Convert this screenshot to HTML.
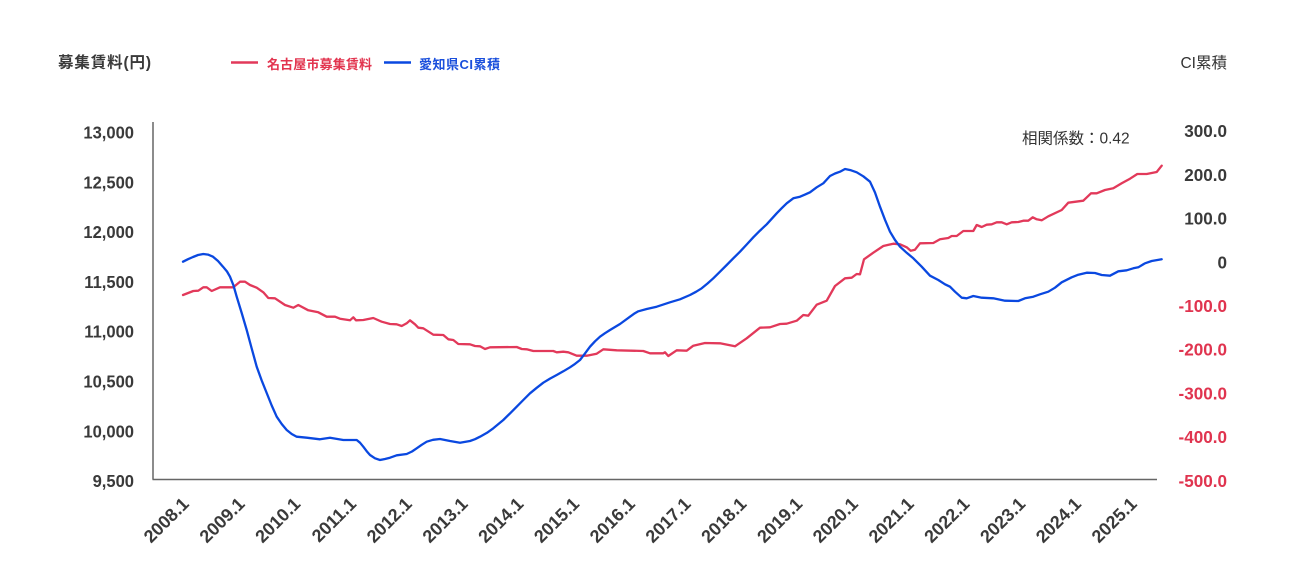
<!DOCTYPE html>
<html><head><meta charset="utf-8"><style>
html,body{margin:0;padding:0;background:#fff;}
svg{display:block;}
text{font-family:"Liberation Sans","Noto Sans CJK JP",sans-serif;}
.ax{font-size:18px;font-weight:bold;fill:#3a3a3a;}
.axr{font-size:18px;font-weight:bold;fill:#e0344f;}
</style></head><body>
<svg width="1300" height="580" viewBox="0 0 1300 580" xmlns="http://www.w3.org/2000/svg">
<rect width="1300" height="580" fill="#fff"/>
<!-- headers -->
<text x="58" y="67.5" font-size="15.5" font-weight="bold" fill="#3a3a3a" textLength="93" lengthAdjust="spacing">募集賃料(円)</text>
<line x1="231" y1="62.5" x2="258" y2="62.5" stroke="#e2395a" stroke-width="2.5"/>
<text x="267" y="69" font-size="13" font-weight="bold" fill="#e2344f" textLength="105" lengthAdjust="spacing">名古屋市募集賃料</text>
<line x1="384" y1="62.5" x2="411" y2="62.5" stroke="#0a48e0" stroke-width="2.5"/>
<text x="419" y="69" font-size="13" font-weight="bold" fill="#1a4fdc" textLength="81" lengthAdjust="spacing">愛知県CI累積</text>
<text x="1227" y="68" font-size="15.5" fill="#333" text-anchor="end">CI累積</text>
<text x="1022" y="143.5" font-size="15.5" fill="#333">相関係数：0.42</text>

<!-- axes -->
<line x1="153" y1="122" x2="153" y2="479.5" stroke="#666" stroke-width="1.5"/>
<line x1="152.5" y1="479.5" x2="1157" y2="479.5" stroke="#666" stroke-width="1.5"/>

<!-- left labels -->
<g class="ax" text-anchor="end">
<text transform="translate(134,138.5) scale(0.92,1)">13,000</text>
<text transform="translate(134,188.3) scale(0.92,1)">12,500</text>
<text transform="translate(134,238.1) scale(0.92,1)">12,000</text>
<text transform="translate(134,287.9) scale(0.92,1)">11,500</text>
<text transform="translate(134,337.7) scale(0.92,1)">11,000</text>
<text transform="translate(134,387.5) scale(0.92,1)">10,500</text>
<text transform="translate(134,437.3) scale(0.92,1)">10,000</text>
<text transform="translate(134,487.1) scale(0.92,1)">9,500</text>
</g>
<!-- right labels -->
<g text-anchor="end">
<text class="ax" transform="translate(1227,137.2) scale(0.95,1)">300.0</text>
<text class="ax" transform="translate(1227,180.9) scale(0.95,1)">200.0</text>
<text class="ax" transform="translate(1227,224.6) scale(0.95,1)">100.0</text>
<text class="ax" transform="translate(1227,268.3) scale(0.95,1)">0</text>
<text class="axr" transform="translate(1227,312) scale(0.95,1)">-100.0</text>
<text class="axr" transform="translate(1227,355.7) scale(0.95,1)">-200.0</text>
<text class="axr" transform="translate(1227,399.4) scale(0.95,1)">-300.0</text>
<text class="axr" transform="translate(1227,443.1) scale(0.95,1)">-400.0</text>
<text class="axr" transform="translate(1227,486.8) scale(0.95,1)">-500.0</text>
</g>
<!-- x labels -->
<g class="ax" text-anchor="end">
<text transform="translate(190,505) rotate(-45)">2008.1</text>
<text transform="translate(245.8,505) rotate(-45)">2009.1</text>
<text transform="translate(301.5,505) rotate(-45)">2010.1</text>
<text transform="translate(357.3,505) rotate(-45)">2011.1</text>
<text transform="translate(413,505) rotate(-45)">2012.1</text>
<text transform="translate(468.8,505) rotate(-45)">2013.1</text>
<text transform="translate(524.6,505) rotate(-45)">2014.1</text>
<text transform="translate(580.3,505) rotate(-45)">2015.1</text>
<text transform="translate(636.1,505) rotate(-45)">2016.1</text>
<text transform="translate(691.8,505) rotate(-45)">2017.1</text>
<text transform="translate(747.6,505) rotate(-45)">2018.1</text>
<text transform="translate(803.4,505) rotate(-45)">2019.1</text>
<text transform="translate(859.1,505) rotate(-45)">2020.1</text>
<text transform="translate(914.9,505) rotate(-45)">2021.1</text>
<text transform="translate(970.6,505) rotate(-45)">2022.1</text>
<text transform="translate(1026.4,505) rotate(-45)">2023.1</text>
<text transform="translate(1082.2,505) rotate(-45)">2024.1</text>
<text transform="translate(1137.9,505) rotate(-45)">2025.1</text>
</g>

<!-- red series -->
<polyline fill="none" stroke="#e2395a" stroke-width="2.3" stroke-linejoin="round" stroke-linecap="round" points="183,295 193.3,291 198.3,290.7 203.3,287.3 206.7,287.3 211.7,291 220,287.3 233.3,287.3 240,281.7 245,281.7 250,285 256.7,287.7 263.3,292.3 268.3,298 275,298.3 285,305 293.3,307.7 298.3,305 308.3,310.3 318.3,312.3 326.7,316.7 335,316.7 340,318.7 350,320.3 353.3,317.3 356,320.3 363.3,320 373.3,318 381.7,321.7 390,324 396.7,324.3 401.7,326 406.7,323.3 410,320.3 415,324.3 418.3,327.7 423.3,328.3 433.3,334.7 443.3,335 448.3,339.3 453.3,340 458.3,344 470,344.3 475,346 480,346.3 485,349 490,347.3 516.7,347 521.7,349 526.7,349.3 533.3,351 553.3,351 556.7,352.3 563.3,351.7 568.3,352.3 576.7,355.7 586.7,355.7 596.7,353.7 603.3,349.3 616.7,350.3 643.3,351 650,353.3 663.3,353.3 665,352.3 668.3,356 676.7,350.3 686.7,350.7 693.3,345.7 705,343 720,343.3 735,346.3 746.7,338.3 760,327.7 770,327.3 780,324 786.7,323.7 796.7,320.7 803.3,315 808.3,315.7 816.7,304.7 826.7,300.7 835,286 845,278.3 851.7,277.7 856.7,274 860,274.3 864,259.3 873.3,252.7 883.3,246 893.3,243.7 900,244.3 906.7,247.3 910.7,250.7 915,249.7 920,243.3 933.3,243 940,239.3 948.3,238 951.7,236 956.7,236 963.3,231 973.3,231 976.7,225 981.7,227 986.7,224.7 991.7,224.3 996.7,222.3 1001.7,222.3 1006.7,224.3 1011.7,222.3 1018.3,222 1023.3,220.7 1028.3,220.7 1032.7,217.3 1036.7,219.3 1041.7,220.3 1048.3,216.3 1061.7,210 1068.3,202.7 1083.3,200.7 1091,193.3 1096.7,193.3 1105,190 1113.3,188.3 1121.7,183.3 1130,178.7 1137.3,174 1146.7,174 1156.7,172 1161.7,165.7"/>

<!-- blue series -->
<polyline fill="none" stroke="#0a48e0" stroke-width="2.3" stroke-linejoin="round" stroke-linecap="round" points="183,261.7 188,259.2 193,257 198,255 203.3,254 208,254.6 213,256.7 218,261 223,266.7 227,271.5 230,276.7 233.5,285.5 236.7,296.7 241.7,313 246.7,330 251.7,348.5 256.7,366.7 261.7,380.5 266.7,393 271.7,405.5 276.7,416.7 281.7,424 286.7,430 291.7,434 296.7,436.7 306.7,437.7 320,439.3 330,437.7 343.3,440 356.7,440 360,442.7 363.3,446.7 366.7,451.2 370,455 375,458.3 380,460 385,459 390,457.7 396.7,455.3 406.7,454 412,451.5 416.7,448.3 421.7,444.8 426.7,441.7 433,439.8 440,439 450,441 460,442.7 470,441 475,439.2 480,436.7 487,432.8 493.3,428.3 503.3,420 510,413.4 516.7,406.7 523.3,400 530,393.3 536.7,387.8 543.3,382.7 550,378.6 556.7,375 563.3,371.3 570,367.3 575,363.9 580,360 585,353.4 590,346.7 595,341.3 600,336.7 605,333.2 610,330 620,324 630,316.7 634,313.8 638.3,311.3 646.7,309 656.7,306.7 670,302.3 680,299.3 690,295 696,291.8 701.7,288.3 707.5,283.5 713.3,278.3 720,271.7 726.7,265 733.3,258.3 740,251.7 746.7,244.5 753.3,237.3 760,230.6 766.7,224.3 771.7,218.8 776.7,213.3 781.7,208.2 786.7,203.3 793.3,198.3 800,196.7 805,194.6 810,192.3 816.7,187.3 823.3,183.3 826.7,179.6 830,176 835,173.5 840,171.7 845,169 851,170.3 856.7,172.3 863.3,176.3 870,181.7 875,192.5 880,206.7 885,219.8 890,231.7 895,240 900,246.7 906.7,252.8 913.3,258.3 921.7,266.7 930,275.7 938.3,280 945,284.3 950,286.7 955,291.7 961.7,297.7 966.7,298.3 973.3,296 981.7,297.7 993.3,298.3 1005,300.7 1018.3,301 1025,298.3 1033.3,296.7 1040,294.3 1048.3,291.7 1055,287.7 1061.7,282.3 1071.7,277.3 1078.3,274.7 1086.7,272.7 1095,273 1101.7,275 1110,275.7 1118.3,271.3 1126.7,270.3 1133.3,268.3 1138.3,267.3 1145,263.3 1151.7,261 1161.7,259.3"/>
</svg>
</body></html>
